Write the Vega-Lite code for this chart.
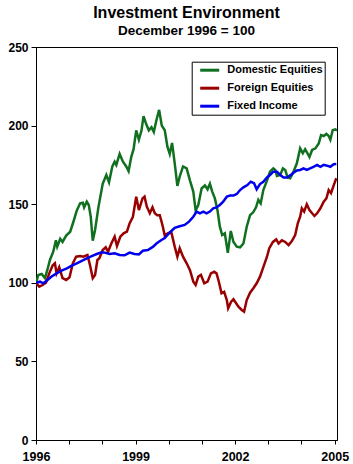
{
  "$schema": "https://vega.github.io/schema/vega-lite/v6.json",
  "width": 301,
  "height": 393,
  "autosize": {"type": "none"},
  "padding": {"left": 36, "top": 47, "right": 16, "bottom": 24},
  "title": {
    "text": "Investment Environment",
    "subtitle": "December 1996 = 100",
    "font": "Liberation Sans",
    "fontSize": 16,
    "fontWeight": "bold",
    "color": "black",
    "subtitleFont": "Liberation Sans",
    "subtitleFontSize": 13.5,
    "subtitleFontWeight": "bold",
    "subtitleColor": "black",
    "subtitlePadding": 3,
    "anchor": "middle",
    "offset": 4
  },
  "data": {
    "values": [
      {"series": "Domestic Equities", "year": 1996.00, "value": 100},
      {"series": "Domestic Equities", "year": 1996.07, "value": 105},
      {"series": "Domestic Equities", "year": 1996.17, "value": 105.6},
      {"series": "Domestic Equities", "year": 1996.27, "value": 103},
      {"series": "Domestic Equities", "year": 1996.34, "value": 108},
      {"series": "Domestic Equities", "year": 1996.42, "value": 114.5},
      {"series": "Domestic Equities", "year": 1996.52, "value": 119.8},
      {"series": "Domestic Equities", "year": 1996.60, "value": 127},
      {"series": "Domestic Equities", "year": 1996.64, "value": 123},
      {"series": "Domestic Equities", "year": 1996.73, "value": 128},
      {"series": "Domestic Equities", "year": 1996.80, "value": 126},
      {"series": "Domestic Equities", "year": 1996.91, "value": 130},
      {"series": "Domestic Equities", "year": 1997.03, "value": 132.5},
      {"series": "Domestic Equities", "year": 1997.13, "value": 139},
      {"series": "Domestic Equities", "year": 1997.23, "value": 146},
      {"series": "Domestic Equities", "year": 1997.33, "value": 150.6},
      {"series": "Domestic Equities", "year": 1997.41, "value": 151},
      {"series": "Domestic Equities", "year": 1997.45, "value": 148},
      {"series": "Domestic Equities", "year": 1997.53, "value": 151.6},
      {"series": "Domestic Equities", "year": 1997.59, "value": 149.5},
      {"series": "Domestic Equities", "year": 1997.65, "value": 142},
      {"series": "Domestic Equities", "year": 1997.71, "value": 126.8},
      {"series": "Domestic Equities", "year": 1997.78, "value": 133.6},
      {"series": "Domestic Equities", "year": 1997.88, "value": 148},
      {"series": "Domestic Equities", "year": 1998.01, "value": 163},
      {"series": "Domestic Equities", "year": 1998.12, "value": 168.6},
      {"series": "Domestic Equities", "year": 1998.20, "value": 164},
      {"series": "Domestic Equities", "year": 1998.30, "value": 174},
      {"series": "Domestic Equities", "year": 1998.37, "value": 177},
      {"series": "Domestic Equities", "year": 1998.42, "value": 175},
      {"series": "Domestic Equities", "year": 1998.52, "value": 182},
      {"series": "Domestic Equities", "year": 1998.62, "value": 177},
      {"series": "Domestic Equities", "year": 1998.72, "value": 174},
      {"series": "Domestic Equities", "year": 1998.79, "value": 171},
      {"series": "Domestic Equities", "year": 1998.87, "value": 180},
      {"series": "Domestic Equities", "year": 1998.94, "value": 185},
      {"series": "Domestic Equities", "year": 1999.02, "value": 197},
      {"series": "Domestic Equities", "year": 1999.10, "value": 191},
      {"series": "Domestic Equities", "year": 1999.18, "value": 197},
      {"series": "Domestic Equities", "year": 1999.24, "value": 206},
      {"series": "Domestic Equities", "year": 1999.32, "value": 201},
      {"series": "Domestic Equities", "year": 1999.40, "value": 197},
      {"series": "Domestic Equities", "year": 1999.48, "value": 199},
      {"series": "Domestic Equities", "year": 1999.55, "value": 196},
      {"series": "Domestic Equities", "year": 1999.63, "value": 203.6},
      {"series": "Domestic Equities", "year": 1999.71, "value": 210},
      {"series": "Domestic Equities", "year": 1999.79, "value": 200},
      {"series": "Domestic Equities", "year": 1999.88, "value": 197},
      {"series": "Domestic Equities", "year": 1999.96, "value": 186.6},
      {"series": "Domestic Equities", "year": 2000.03, "value": 182},
      {"series": "Domestic Equities", "year": 2000.10, "value": 189},
      {"series": "Domestic Equities", "year": 2000.18, "value": 176},
      {"series": "Domestic Equities", "year": 2000.26, "value": 161.6},
      {"series": "Domestic Equities", "year": 2000.33, "value": 167.5},
      {"series": "Domestic Equities", "year": 2000.43, "value": 174},
      {"series": "Domestic Equities", "year": 2000.54, "value": 172.8},
      {"series": "Domestic Equities", "year": 2000.64, "value": 165},
      {"series": "Domestic Equities", "year": 2000.74, "value": 158},
      {"series": "Domestic Equities", "year": 2000.81, "value": 146},
      {"series": "Domestic Equities", "year": 2000.89, "value": 149.5},
      {"series": "Domestic Equities", "year": 2000.99, "value": 160},
      {"series": "Domestic Equities", "year": 2001.09, "value": 162},
      {"series": "Domestic Equities", "year": 2001.17, "value": 159.5},
      {"series": "Domestic Equities", "year": 2001.24, "value": 163},
      {"series": "Domestic Equities", "year": 2001.31, "value": 158},
      {"series": "Domestic Equities", "year": 2001.39, "value": 153.7},
      {"series": "Domestic Equities", "year": 2001.47, "value": 146},
      {"series": "Domestic Equities", "year": 2001.54, "value": 135.7},
      {"series": "Domestic Equities", "year": 2001.61, "value": 130.4},
      {"series": "Domestic Equities", "year": 2001.69, "value": 131.5},
      {"series": "Domestic Equities", "year": 2001.78, "value": 119},
      {"series": "Domestic Equities", "year": 2001.87, "value": 133},
      {"series": "Domestic Equities", "year": 2001.95, "value": 126},
      {"series": "Domestic Equities", "year": 2002.05, "value": 123},
      {"series": "Domestic Equities", "year": 2002.15, "value": 122.6},
      {"series": "Domestic Equities", "year": 2002.25, "value": 125},
      {"series": "Domestic Equities", "year": 2002.35, "value": 135.7},
      {"series": "Domestic Equities", "year": 2002.45, "value": 143},
      {"series": "Domestic Equities", "year": 2002.55, "value": 145},
      {"series": "Domestic Equities", "year": 2002.63, "value": 148},
      {"series": "Domestic Equities", "year": 2002.70, "value": 152.7},
      {"series": "Domestic Equities", "year": 2002.77, "value": 150.5},
      {"series": "Domestic Equities", "year": 2002.85, "value": 159},
      {"series": "Domestic Equities", "year": 2002.96, "value": 165},
      {"series": "Domestic Equities", "year": 2003.05, "value": 170.7},
      {"series": "Domestic Equities", "year": 2003.15, "value": 172.8},
      {"series": "Domestic Equities", "year": 2003.21, "value": 171.8},
      {"series": "Domestic Equities", "year": 2003.26, "value": 168},
      {"series": "Domestic Equities", "year": 2003.36, "value": 168.6},
      {"series": "Domestic Equities", "year": 2003.44, "value": 172.8},
      {"series": "Domestic Equities", "year": 2003.51, "value": 171.8},
      {"series": "Domestic Equities", "year": 2003.58, "value": 167},
      {"series": "Domestic Equities", "year": 2003.66, "value": 166.5},
      {"series": "Domestic Equities", "year": 2003.76, "value": 170.7},
      {"series": "Domestic Equities", "year": 2003.86, "value": 176},
      {"series": "Domestic Equities", "year": 2003.96, "value": 185.5},
      {"series": "Domestic Equities", "year": 2004.04, "value": 182.4},
      {"series": "Domestic Equities", "year": 2004.11, "value": 185},
      {"series": "Domestic Equities", "year": 2004.18, "value": 182.4},
      {"series": "Domestic Equities", "year": 2004.24, "value": 180},
      {"series": "Domestic Equities", "year": 2004.32, "value": 184.5},
      {"series": "Domestic Equities", "year": 2004.42, "value": 185.5},
      {"series": "Domestic Equities", "year": 2004.52, "value": 188.7},
      {"series": "Domestic Equities", "year": 2004.59, "value": 194},
      {"series": "Domestic Equities", "year": 2004.67, "value": 193.4},
      {"series": "Domestic Equities", "year": 2004.75, "value": 194.7},
      {"series": "Domestic Equities", "year": 2004.82, "value": 193.4},
      {"series": "Domestic Equities", "year": 2004.87, "value": 191},
      {"series": "Domestic Equities", "year": 2004.94, "value": 197},
      {"series": "Domestic Equities", "year": 2005.02, "value": 197.6},
      {"series": "Domestic Equities", "year": 2005.07, "value": 197},

      {"series": "Foreign Equities", "year": 1996.00, "value": 100},
      {"series": "Foreign Equities", "year": 1996.10, "value": 97.5},
      {"series": "Foreign Equities", "year": 1996.20, "value": 98.6},
      {"series": "Foreign Equities", "year": 1996.30, "value": 100},
      {"series": "Foreign Equities", "year": 1996.40, "value": 106},
      {"series": "Foreign Equities", "year": 1996.50, "value": 111},
      {"series": "Foreign Equities", "year": 1996.57, "value": 112.4},
      {"series": "Foreign Equities", "year": 1996.62, "value": 106},
      {"series": "Foreign Equities", "year": 1996.70, "value": 110},
      {"series": "Foreign Equities", "year": 1996.80, "value": 103},
      {"series": "Foreign Equities", "year": 1996.91, "value": 101.8},
      {"series": "Foreign Equities", "year": 1997.01, "value": 103.5},
      {"series": "Foreign Equities", "year": 1997.11, "value": 112.4},
      {"series": "Foreign Equities", "year": 1997.21, "value": 116.6},
      {"series": "Foreign Equities", "year": 1997.33, "value": 117},
      {"series": "Foreign Equities", "year": 1997.43, "value": 116.6},
      {"series": "Foreign Equities", "year": 1997.55, "value": 117.7},
      {"series": "Foreign Equities", "year": 1997.63, "value": 111},
      {"series": "Foreign Equities", "year": 1997.71, "value": 102.9},
      {"series": "Foreign Equities", "year": 1997.78, "value": 105},
      {"series": "Foreign Equities", "year": 1997.85, "value": 114.5},
      {"series": "Foreign Equities", "year": 1997.91, "value": 115.6},
      {"series": "Foreign Equities", "year": 1998.01, "value": 120.9},
      {"series": "Foreign Equities", "year": 1998.10, "value": 122.6},
      {"series": "Foreign Equities", "year": 1998.17, "value": 119.8},
      {"series": "Foreign Equities", "year": 1998.27, "value": 125},
      {"series": "Foreign Equities", "year": 1998.37, "value": 129.3},
      {"series": "Foreign Equities", "year": 1998.44, "value": 123.4},
      {"series": "Foreign Equities", "year": 1998.54, "value": 129.3},
      {"series": "Foreign Equities", "year": 1998.64, "value": 131.5},
      {"series": "Foreign Equities", "year": 1998.74, "value": 132.5},
      {"series": "Foreign Equities", "year": 1998.82, "value": 137.8},
      {"series": "Foreign Equities", "year": 1998.92, "value": 142},
      {"series": "Foreign Equities", "year": 1999.02, "value": 154.8},
      {"series": "Foreign Equities", "year": 1999.10, "value": 146.3},
      {"series": "Foreign Equities", "year": 1999.21, "value": 153.7},
      {"series": "Foreign Equities", "year": 1999.27, "value": 154.8},
      {"series": "Foreign Equities", "year": 1999.34, "value": 148.4},
      {"series": "Foreign Equities", "year": 1999.43, "value": 144.2},
      {"series": "Foreign Equities", "year": 1999.51, "value": 148},
      {"series": "Foreign Equities", "year": 1999.58, "value": 144.2},
      {"series": "Foreign Equities", "year": 1999.65, "value": 143},
      {"series": "Foreign Equities", "year": 1999.73, "value": 143},
      {"series": "Foreign Equities", "year": 1999.81, "value": 136.8},
      {"series": "Foreign Equities", "year": 1999.88, "value": 130},
      {"series": "Foreign Equities", "year": 1999.98, "value": 131.5},
      {"series": "Foreign Equities", "year": 2000.08, "value": 132},
      {"series": "Foreign Equities", "year": 2000.18, "value": 123},
      {"series": "Foreign Equities", "year": 2000.26, "value": 116.6},
      {"series": "Foreign Equities", "year": 2000.33, "value": 122},
      {"series": "Foreign Equities", "year": 2000.43, "value": 116.6},
      {"series": "Foreign Equities", "year": 2000.54, "value": 112.4},
      {"series": "Foreign Equities", "year": 2000.64, "value": 108},
      {"series": "Foreign Equities", "year": 2000.74, "value": 100.7},
      {"series": "Foreign Equities", "year": 2000.81, "value": 98.6},
      {"series": "Foreign Equities", "year": 2000.89, "value": 103.9},
      {"series": "Foreign Equities", "year": 2000.97, "value": 105},
      {"series": "Foreign Equities", "year": 2001.07, "value": 99.7},
      {"series": "Foreign Equities", "year": 2001.17, "value": 100.7},
      {"series": "Foreign Equities", "year": 2001.27, "value": 106},
      {"series": "Foreign Equities", "year": 2001.37, "value": 107},
      {"series": "Foreign Equities", "year": 2001.44, "value": 106},
      {"series": "Foreign Equities", "year": 2001.51, "value": 100.7},
      {"series": "Foreign Equities", "year": 2001.59, "value": 93.3},
      {"series": "Foreign Equities", "year": 2001.67, "value": 94.3},
      {"series": "Foreign Equities", "year": 2001.75, "value": 89},
      {"series": "Foreign Equities", "year": 2001.79, "value": 83.8},
      {"series": "Foreign Equities", "year": 2001.88, "value": 88},
      {"series": "Foreign Equities", "year": 2001.95, "value": 89.5},
      {"series": "Foreign Equities", "year": 2002.03, "value": 87},
      {"series": "Foreign Equities", "year": 2002.10, "value": 84.8},
      {"series": "Foreign Equities", "year": 2002.20, "value": 82.7},
      {"series": "Foreign Equities", "year": 2002.27, "value": 81.6},
      {"series": "Foreign Equities", "year": 2002.35, "value": 89},
      {"series": "Foreign Equities", "year": 2002.45, "value": 93.7},
      {"series": "Foreign Equities", "year": 2002.55, "value": 96.5},
      {"series": "Foreign Equities", "year": 2002.65, "value": 99.7},
      {"series": "Foreign Equities", "year": 2002.75, "value": 103.9},
      {"series": "Foreign Equities", "year": 2002.85, "value": 110},
      {"series": "Foreign Equities", "year": 2002.96, "value": 116.6},
      {"series": "Foreign Equities", "year": 2003.03, "value": 122},
      {"series": "Foreign Equities", "year": 2003.14, "value": 126},
      {"series": "Foreign Equities", "year": 2003.24, "value": 127.6},
      {"series": "Foreign Equities", "year": 2003.31, "value": 125},
      {"series": "Foreign Equities", "year": 2003.41, "value": 127},
      {"series": "Foreign Equities", "year": 2003.51, "value": 126},
      {"series": "Foreign Equities", "year": 2003.61, "value": 124},
      {"series": "Foreign Equities", "year": 2003.71, "value": 126.5},
      {"series": "Foreign Equities", "year": 2003.81, "value": 130.4},
      {"series": "Foreign Equities", "year": 2003.89, "value": 138},
      {"series": "Foreign Equities", "year": 2003.96, "value": 142},
      {"series": "Foreign Equities", "year": 2004.01, "value": 147.4},
      {"series": "Foreign Equities", "year": 2004.08, "value": 145.3},
      {"series": "Foreign Equities", "year": 2004.16, "value": 150},
      {"series": "Foreign Equities", "year": 2004.24, "value": 146.3},
      {"series": "Foreign Equities", "year": 2004.32, "value": 144.2},
      {"series": "Foreign Equities", "year": 2004.39, "value": 142.5},
      {"series": "Foreign Equities", "year": 2004.47, "value": 144.2},
      {"series": "Foreign Equities", "year": 2004.57, "value": 147.4},
      {"series": "Foreign Equities", "year": 2004.67, "value": 151.6},
      {"series": "Foreign Equities", "year": 2004.75, "value": 153.7},
      {"series": "Foreign Equities", "year": 2004.82, "value": 159},
      {"series": "Foreign Equities", "year": 2004.89, "value": 157},
      {"series": "Foreign Equities", "year": 2004.97, "value": 162},
      {"series": "Foreign Equities", "year": 2005.05, "value": 166.5},

      {"series": "Fixed Income", "year": 1996.00, "value": 100},
      {"series": "Fixed Income", "year": 1996.12, "value": 100.7},
      {"series": "Fixed Income", "year": 1996.22, "value": 99.7},
      {"series": "Fixed Income", "year": 1996.32, "value": 101.3},
      {"series": "Fixed Income", "year": 1996.47, "value": 104},
      {"series": "Fixed Income", "year": 1996.62, "value": 106},
      {"series": "Fixed Income", "year": 1996.77, "value": 107.7},
      {"series": "Fixed Income", "year": 1996.93, "value": 109.2},
      {"series": "Fixed Income", "year": 1997.08, "value": 110.9},
      {"series": "Fixed Income", "year": 1997.23, "value": 112.4},
      {"series": "Fixed Income", "year": 1997.38, "value": 113.9},
      {"series": "Fixed Income", "year": 1997.53, "value": 115.6},
      {"series": "Fixed Income", "year": 1997.68, "value": 117},
      {"series": "Fixed Income", "year": 1997.83, "value": 118.3},
      {"series": "Fixed Income", "year": 1997.98, "value": 119.4},
      {"series": "Fixed Income", "year": 1998.07, "value": 119.2},
      {"series": "Fixed Income", "year": 1998.22, "value": 118.3},
      {"series": "Fixed Income", "year": 1998.37, "value": 118.8},
      {"series": "Fixed Income", "year": 1998.52, "value": 117.7},
      {"series": "Fixed Income", "year": 1998.67, "value": 117.5},
      {"series": "Fixed Income", "year": 1998.82, "value": 119.2},
      {"series": "Fixed Income", "year": 1998.97, "value": 118.3},
      {"series": "Fixed Income", "year": 1999.10, "value": 118.1},
      {"series": "Fixed Income", "year": 1999.22, "value": 120.4},
      {"series": "Fixed Income", "year": 1999.37, "value": 120.9},
      {"series": "Fixed Income", "year": 1999.53, "value": 123},
      {"series": "Fixed Income", "year": 1999.63, "value": 125},
      {"series": "Fixed Income", "year": 1999.78, "value": 127.2},
      {"series": "Fixed Income", "year": 1999.88, "value": 128.5},
      {"series": "Fixed Income", "year": 2000.03, "value": 132},
      {"series": "Fixed Income", "year": 2000.18, "value": 135},
      {"series": "Fixed Income", "year": 2000.33, "value": 136},
      {"series": "Fixed Income", "year": 2000.48, "value": 136.8},
      {"series": "Fixed Income", "year": 2000.61, "value": 138.9},
      {"series": "Fixed Income", "year": 2000.74, "value": 142},
      {"series": "Fixed Income", "year": 2000.84, "value": 145.3},
      {"series": "Fixed Income", "year": 2000.94, "value": 144.2},
      {"series": "Fixed Income", "year": 2001.04, "value": 145.3},
      {"series": "Fixed Income", "year": 2001.14, "value": 144.2},
      {"series": "Fixed Income", "year": 2001.24, "value": 145.3},
      {"series": "Fixed Income", "year": 2001.34, "value": 147.4},
      {"series": "Fixed Income", "year": 2001.44, "value": 148},
      {"series": "Fixed Income", "year": 2001.54, "value": 149.5},
      {"series": "Fixed Income", "year": 2001.64, "value": 151.6},
      {"series": "Fixed Income", "year": 2001.75, "value": 154.8},
      {"series": "Fixed Income", "year": 2001.85, "value": 155.5},
      {"series": "Fixed Income", "year": 2001.95, "value": 155.5},
      {"series": "Fixed Income", "year": 2002.05, "value": 156.5},
      {"series": "Fixed Income", "year": 2002.15, "value": 159},
      {"series": "Fixed Income", "year": 2002.25, "value": 160.7},
      {"series": "Fixed Income", "year": 2002.37, "value": 162.2},
      {"series": "Fixed Income", "year": 2002.47, "value": 164.3},
      {"series": "Fixed Income", "year": 2002.57, "value": 163.3},
      {"series": "Fixed Income", "year": 2002.65, "value": 159.5},
      {"series": "Fixed Income", "year": 2002.75, "value": 162.8},
      {"series": "Fixed Income", "year": 2002.85, "value": 164.3},
      {"series": "Fixed Income", "year": 2002.96, "value": 167},
      {"series": "Fixed Income", "year": 2003.05, "value": 168.6},
      {"series": "Fixed Income", "year": 2003.15, "value": 170.7},
      {"series": "Fixed Income", "year": 2003.26, "value": 170.7},
      {"series": "Fixed Income", "year": 2003.36, "value": 168.6},
      {"series": "Fixed Income", "year": 2003.46, "value": 167},
      {"series": "Fixed Income", "year": 2003.56, "value": 167},
      {"series": "Fixed Income", "year": 2003.66, "value": 168.3},
      {"series": "Fixed Income", "year": 2003.76, "value": 170},
      {"series": "Fixed Income", "year": 2003.86, "value": 171.5},
      {"series": "Fixed Income", "year": 2003.96, "value": 171.8},
      {"series": "Fixed Income", "year": 2004.06, "value": 172.8},
      {"series": "Fixed Income", "year": 2004.16, "value": 171.8},
      {"series": "Fixed Income", "year": 2004.26, "value": 172.8},
      {"series": "Fixed Income", "year": 2004.36, "value": 173.8},
      {"series": "Fixed Income", "year": 2004.47, "value": 175},
      {"series": "Fixed Income", "year": 2004.57, "value": 173.8},
      {"series": "Fixed Income", "year": 2004.67, "value": 175},
      {"series": "Fixed Income", "year": 2004.77, "value": 174.5},
      {"series": "Fixed Income", "year": 2004.87, "value": 173.8},
      {"series": "Fixed Income", "year": 2004.97, "value": 175.4},
      {"series": "Fixed Income", "year": 2005.05, "value": 175.6}
    ]
  },
  "mark": {"type": "line", "strokeWidth": 2.5, "clip": true},
  "encoding": {
    "x": {
      "field": "year",
      "type": "quantitative",
      "scale": {"domain": [1996, 2005.07], "nice": false, "zero": false},
      "axis": {
        "title": null,
        "values": [1996, 1997, 1998, 1999, 2000, 2001, 2002, 2003, 2004, 2005],
        "labelExpr": "(datum.value - 1996) % 3 == 0 ? '' + datum.value : ''",
        "tickSize": 4,
        "labelPadding": 6,
        "labelFontSize": 12.5,
        "labelOverlap": false,
        "labelFlush": false
      }
    },
    "y": {
      "field": "value",
      "type": "quantitative",
      "scale": {"domain": [0, 250], "nice": false},
      "axis": {
        "title": null,
        "values": [0, 50, 100, 150, 200, 250],
        "tickSize": 5,
        "labelPadding": 3
      }
    },
    "color": {
      "field": "series",
      "type": "nominal",
      "scale": {
        "domain": ["Domestic Equities", "Foreign Equities", "Fixed Income"],
        "range": ["#107020", "#990000", "#0000ee"]
      },
      "legend": {
        "title": null,
        "orient": "none",
        "legendX": 155.7,
        "legendY": 14.7,
        "strokeColor": "black",
        "fillColor": "white",
        "padding": 2,
        "symbolType": "M0,0H3.8",
        "symbolSize": 100,
        "symbolStrokeWidth": 3,
        "labelFont": "Liberation Sans",
        "labelFontWeight": "bold",
        "labelFontSize": 11,
        "labelColor": "black",
        "labelOffset": 20.6,
        "rowPadding": 5
      }
    }
  },
  "config": {
    "view": {"stroke": "black", "strokeWidth": 1},
    "axis": {
      "grid": false,
      "domainColor": "black",
      "domainWidth": 1,
      "tickColor": "black",
      "tickWidth": 1,
      "labelColor": "black",
      "labelFont": "Liberation Sans",
      "labelFontWeight": "bold",
      "labelFontSize": 12
    }
  }
}
